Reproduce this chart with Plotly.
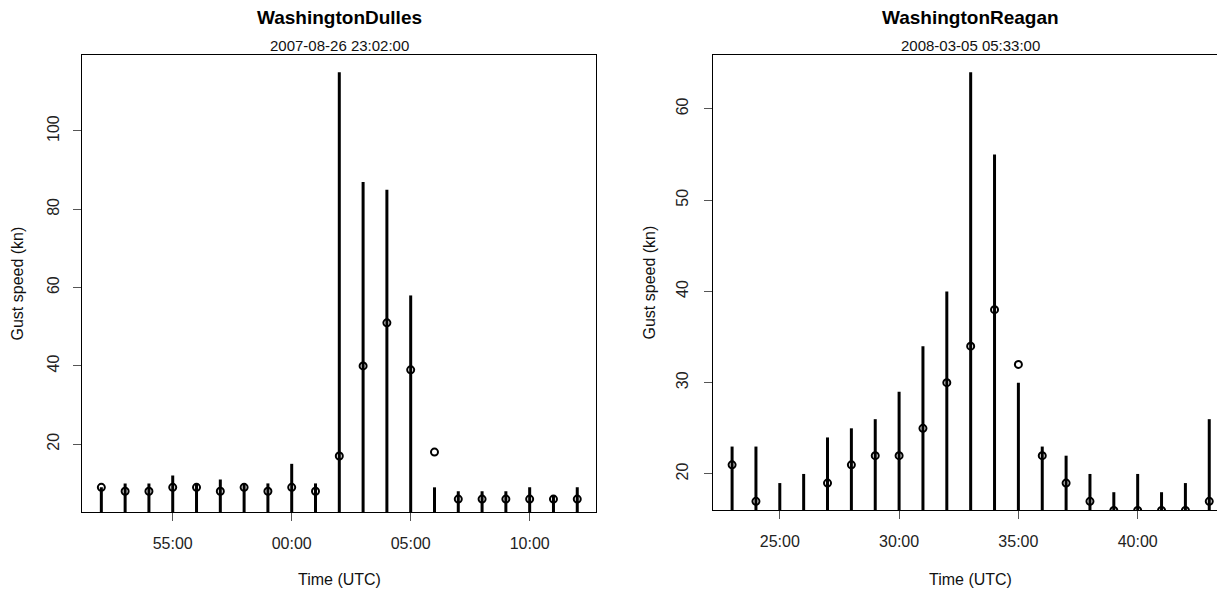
"""
Wind gust charts for two Washington airports.

Each panel shows the peak gust per minute as vertical stems (from zero)
and the one-minute mean wind as open circles, around the event time.
"""

import plotly.graph_objects as go

# the page keeps an 8 px body margin, so the figure is that much smaller
PAGE_MARGIN = 8
W, H = 1225 - PAGE_MARGIN, 594 - PAGE_MARGIN

# WashingtonDulles, 2007-08-26
dulles_date = "2007-08-26"
dulles_event = "2007-08-26 23:02:00"
dulles_minutes = [
    "22:52", "22:53", "22:54", "22:55", "22:56", "22:57", "22:58",
    "22:59", "23:00", "23:01", "23:02", "23:03", "23:04", "23:05",
    "23:06", "23:07", "23:08", "23:09", "23:10", "23:11", "23:12",
]
dulles_gust = [9, 10, 10, 12, 10, 11, 10, 10, 15, 10, 115,
               87, 85, 58, 9, 8, 8, 8, 9, 7, 9]
dulles_mean = [9, 8, 8, 9, 9, 8, 9, 8, 9, 8, 17,
               40, 51, 39, 18, 6, 6, 6, 6, 6, 6]
dulles_yticks = [20, 40, 60, 80, 100]
dulles_xticks = ["22:55", "23:00", "23:05", "23:10"]

# WashingtonReagan, 2008-03-05
reagan_date = "2008-03-05"
reagan_event = "2008-03-05 05:33:00"
reagan_minutes = [
    "05:23", "05:24", "05:25", "05:26", "05:27", "05:28", "05:29",
    "05:30", "05:31", "05:32", "05:33", "05:34", "05:35", "05:36",
    "05:37", "05:38", "05:39", "05:40", "05:41", "05:42", "05:43",
]
reagan_gust = [23, 23, 19, 20, 24, 25, 26, 29, 34, 40, 64,
               55, 30, 23, 22, 20, 18, 20, 18, 19, 26]
reagan_mean = [21, 17, None, None, 19, 21, 22, 22, 25, 30, 34,
               38, 32, 22, 19, 17, 16, 16, 16, 16, 17]
reagan_yticks = [20, 30, 40, 50, 60]
reagan_xticks = ["05:25", "05:30", "05:35", "05:40"]

FONT = "Liberation Sans, Arial, sans-serif"


def stems(date, minutes, values):
    """Type 'h' stems: a segment from zero up to each value."""
    xs, ys = [], []
    for m, v in zip(minutes, values):
        t = f"{date} {m}:00"
        xs += [t, t, None]
        ys += [0, v, None]
    return xs, ys


def px(x):
    """Window pixel column -> paper fraction."""
    return (x - PAGE_MARGIN) / W


def py(y):
    """Window pixel row -> paper fraction."""
    return 1 - (y - PAGE_MARGIN) / H


fig = go.Figure()

panels = [
    ("x", "y", dulles_date, dulles_minutes, dulles_gust, dulles_mean),
    ("x2", "y2", reagan_date, reagan_minutes, reagan_gust, reagan_mean),
]
for xa, ya, date, minutes, gust, mean in panels:
    sx, sy = stems(date, minutes, gust)
    fig.add_trace(go.Scatter(
        x=sx, y=sy, mode="lines", xaxis=xa, yaxis=ya,
        line={"color": "black", "width": 3},
        showlegend=False, hoverinfo="skip",
    ))
    fig.add_trace(go.Scatter(
        x=[f"{date} {m}:00" for m in minutes], y=mean,
        mode="markers", xaxis=xa, yaxis=ya,
        marker={"symbol": "circle-open", "size": 7,
                "color": "black", "line": {"width": 2, "color": "black"}},
        showlegend=False,
    ))

axis_common = dict(
    showgrid=False, zeroline=False, showline=True, linecolor="black",
    linewidth=1, ticks="outside", ticklen=8, tickwidth=1,
    tickcolor="#555", tickfont={"family": FONT, "size": 16, "color": "#222"},
)

fig.update_layout(
    width=W, height=H,
    margin={"l": 0, "r": 0, "t": 0, "b": 0},
    paper_bgcolor="white", plot_bgcolor="white",
    font={"family": FONT, "color": "black"},
    xaxis=dict(
        axis_common, type="date", domain=[px(82.3), px(596.3)],
        range=["2007-08-26 22:51:12", "2007-08-26 23:12:48"],
        tickvals=[f"{dulles_date} {m}:00" for m in dulles_xticks],
        tickformat="%M:%S", mirror=True, anchor="y", ticklabelstandoff=9,
    ),
    yaxis=dict(
        axis_common, domain=[py(512), py(55)], range=[2.7, 119.4],
        tickvals=dulles_yticks, tickangle=-90, mirror=True, anchor="x",
        ticklabelstandoff=8,
    ),
    xaxis2=dict(
        axis_common, type="date", domain=[px(713), 1.0],
        range=["2008-03-05 05:22:12", "2008-03-05 05:43:39.6"],
        tickvals=[f"{reagan_date} {m}:00" for m in reagan_xticks],
        tickformat="%M:%S", mirror=True, anchor="y2", ticklabelstandoff=9,
    ),
    yaxis2=dict(
        axis_common, domain=[py(510), py(55)], range=[16.05, 65.9],
        tickvals=reagan_yticks, tickangle=-90, mirror=False, anchor="x2",
        ticklabelstandoff=10,
    ),
)

annotations = []
for title, sub, cx, ylab_x, box_mid in [
    ("WashingtonDulles", dulles_event, 339.3, 17, 283.5),
    ("WashingtonReagan", reagan_event, 970.7, 649, 282.5),
]:
    annotations += [
        dict(text=f"<b>{title}</b>", x=px(cx), y=py(17),
             font={"size": 19, "family": FONT, "color": "black"}),
        dict(text=sub, x=px(cx), y=py(46),
             font={"size": 15, "family": FONT, "color": "#111"}),
        dict(text="Time (UTC)", x=px(cx), y=py(579),
             font={"size": 16, "family": FONT, "color": "#111"}),
        dict(text="Gust speed (kn)", x=px(ylab_x), y=py(box_mid),
             textangle=-90,
             font={"size": 16, "family": FONT, "color": "#111"}),
    ]
for a in annotations:
    a.update(xref="paper", yref="paper", showarrow=False,
             xanchor="center", yanchor="middle")
fig.update_layout(annotations=annotations)

fig.write_html("out.html")
